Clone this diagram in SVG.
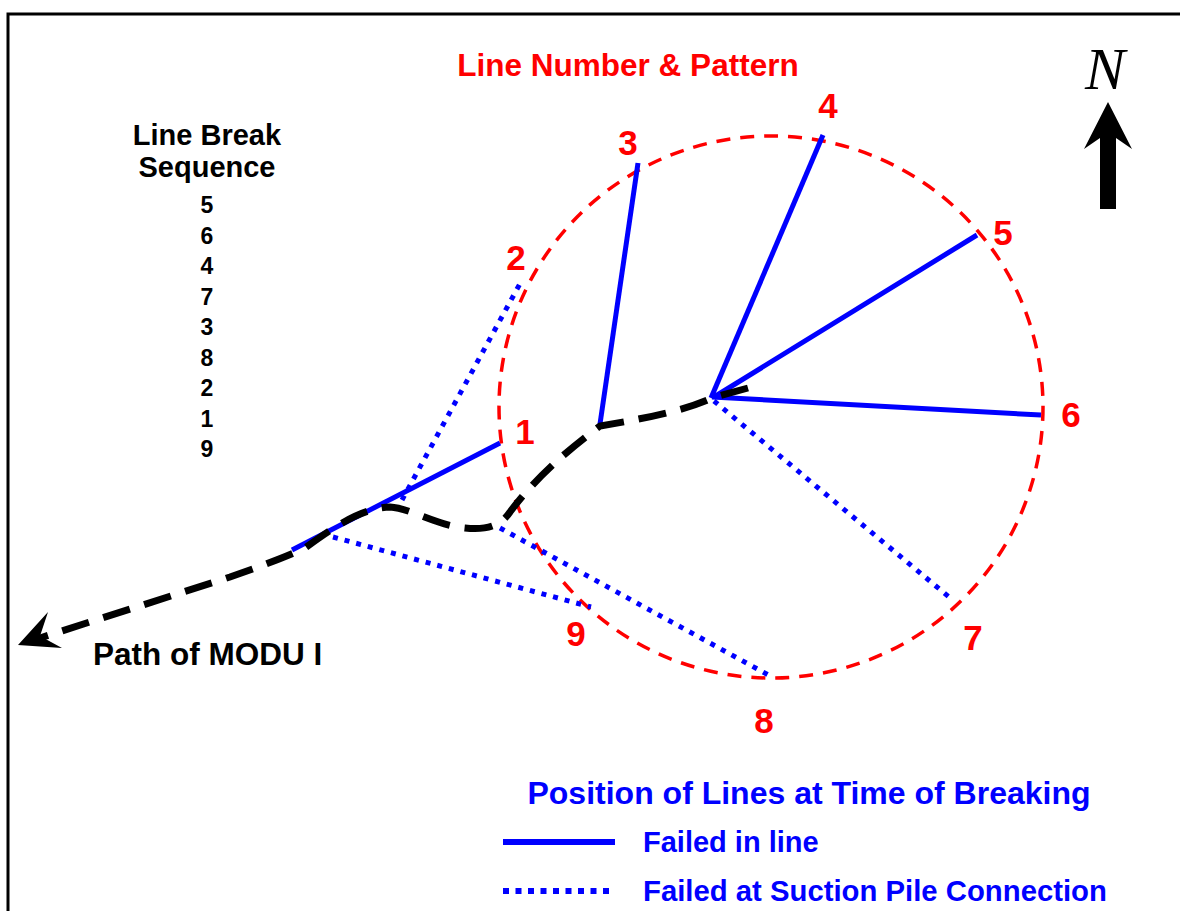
<svg xmlns="http://www.w3.org/2000/svg" width="1180" height="911" viewBox="0 0 1180 911">
<defs>
<style>
.t{font-family:"Liberation Sans",Arial,sans-serif;font-weight:bold}
.red{fill:#FF0000}
.blk{fill:#000}
.blu{fill:#0000FF}
.num{font-size:35px;text-anchor:middle}
.seq{font-size:23px;text-anchor:middle}
.solid{stroke:#0000FF;stroke-width:5;fill:none}
.dot{stroke:#0000FF;stroke-width:5;stroke-dasharray:5 7;fill:none}
.path{stroke:#000;stroke-width:7;stroke-dasharray:28 15;fill:none}
</style>
</defs>
<rect width="1180" height="911" fill="#fff"/>
<path d="M8,911 V14 H1180" fill="none" stroke="#000" stroke-width="3"/>

<g id="circle">
<ellipse cx="771" cy="407" rx="272" ry="271" fill="none" stroke="#FF0000" stroke-width="3.5" stroke-dasharray="14 10"/>
</g>

<g id="connectors">
<line id="line1" class="solid" x1="292" y1="550" x2="500" y2="443"/>
<line id="line2" class="dot" x1="402" y1="500" x2="522" y2="280"/>
<line id="line3" class="solid" x1="600" y1="424" x2="638" y2="163"/>
<line id="line4" class="solid" x1="711" y1="398" x2="823" y2="135"/>
<line id="line5" class="solid" x1="714" y1="397" x2="977" y2="235"/>
<line id="line6" class="solid" x1="712" y1="397" x2="1041" y2="415"/>
<line id="line7" class="dot" x1="714" y1="401" x2="949" y2="597"/>
<line id="line8" class="dot" x1="500" y1="528" x2="772" y2="677"/>
<line id="line9" class="dot" x1="333" y1="537" x2="591" y2="607"/>
<path id="modu-path" class="path" d="M748,388 L712,398 C690,408 660,416 600,426 C575,445 540,472 510,512 C500,527 485,530 465,528 C435,525 410,508 390,507 C362,508 335,526 305,548 C290,555 270,563 230,577 L40,638"/>
<polygon id="modu-arrow" points="18,645 48,612 40,636 62,648" fill="#000"/>
</g>

<g id="title"><text class="t red" x="628" y="76" font-size="31.5" text-anchor="middle">Line Number &amp; Pattern</text></g>

<g id="labels">
<text class="t red num" x="525" y="444">1</text>
<text class="t red num" x="516" y="270">2</text>
<text class="t red num" x="628" y="155">3</text>
<text class="t red num" x="828" y="118">4</text>
<text class="t red num" x="1003" y="245">5</text>
<text class="t red num" x="1071" y="427">6</text>
<text class="t red num" x="973" y="650">7</text>
<text class="t red num" x="764" y="733">8</text>
<text class="t red num" x="576" y="646">9</text>
</g>

<g id="sequence">
<text class="t blk" x="207" y="145" font-size="29" text-anchor="middle">Line Break</text>
<text class="t blk" x="207" y="177" font-size="29" text-anchor="middle">Sequence</text>
<text class="t blk seq" x="207" y="213">5</text>
<text class="t blk seq" x="207" y="243.5">6</text>
<text class="t blk seq" x="207" y="274">4</text>
<text class="t blk seq" x="207" y="304.5">7</text>
<text class="t blk seq" x="207" y="335">3</text>
<text class="t blk seq" x="207" y="365.5">8</text>
<text class="t blk seq" x="207" y="396">2</text>
<text class="t blk seq" x="207" y="426.5">1</text>
<text class="t blk seq" x="207" y="457">9</text>
</g>

<g id="path-label"><text class="t blk" x="93" y="665" font-size="31.5">Path of MODU I</text></g>

<g id="north">
<text x="1105" y="89" font-family="Liberation Serif,serif" font-style="italic" font-size="60" text-anchor="middle" fill="#000">N</text>
<polygon points="1108,102 1132,149 1116,138 1116,209 1100,209 1100,138 1084,149" fill="#000"/>
</g>

<g id="legend">
<text class="t blu" x="809" y="804" font-size="32" text-anchor="middle">Position of Lines at Time of Breaking</text>
<line x1="503" y1="842" x2="615" y2="842" stroke="#0000FF" stroke-width="6"/>
<text class="t blu" x="643" y="852" font-size="29">Failed in line</text>
<line x1="503" y1="891" x2="615" y2="891" stroke="#0000FF" stroke-width="6" stroke-dasharray="6 6.5"/>
<text class="t blu" x="643" y="901" font-size="29.3">Failed at Suction Pile Connection</text>
</g>
</svg>
